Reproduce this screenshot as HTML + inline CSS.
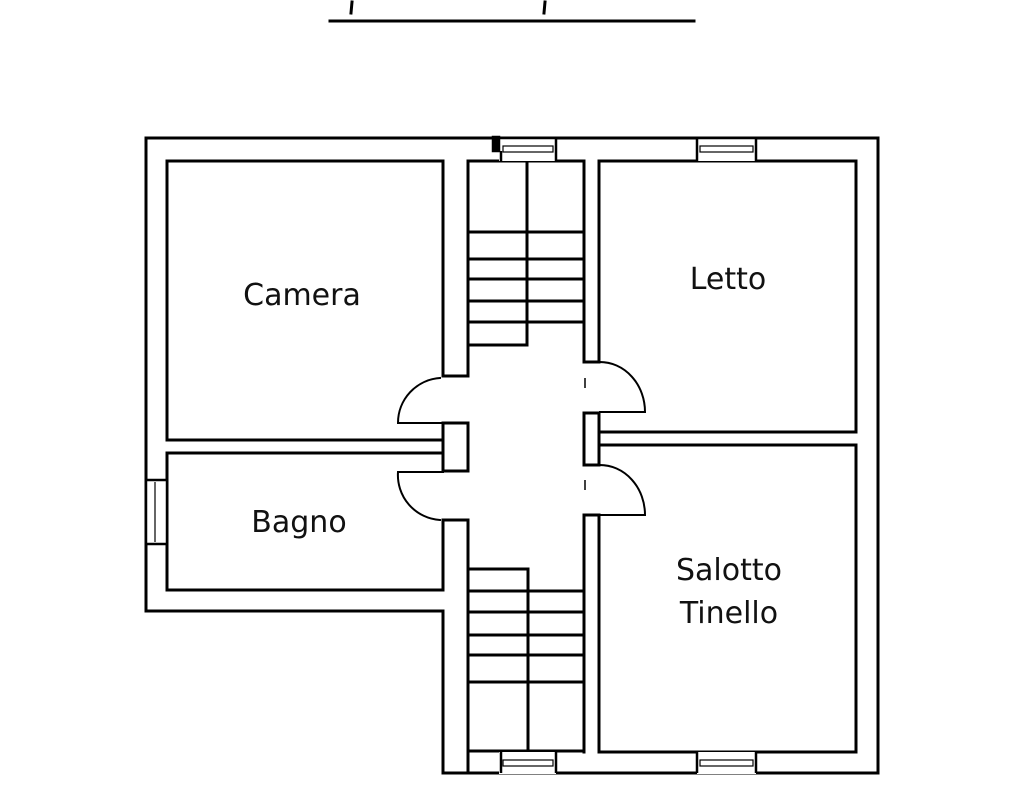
<!DOCTYPE html>
<html><head><meta charset="utf-8"><style>
html,body{margin:0;padding:0;background:#fff;}
svg{display:block;}
text{font-family:"DejaVu Sans","Liberation Sans",sans-serif;font-size:30px;fill:#111;text-anchor:middle;}
</style></head><body>
<svg width="1024" height="785" viewBox="0 0 1024 785" xmlns="http://www.w3.org/2000/svg">
<g fill="none" stroke="#000" stroke-width="3" stroke-linecap="square">
<!-- top line -->
<line x1="330" y1="21" x2="694" y2="21"/>
<line x1="352" y1="2" x2="351" y2="13"/>
<line x1="545" y1="2" x2="544" y2="13"/>
<!-- outer wall -->
<path d="M146,138 H878 V773 H443 V611 H146 Z"/>
<!-- Camera -->
<path d="M443,376 V161 H167 V440 H443"/>
<!-- Bagno -->
<path d="M443,453 H167 V590 H443 V520"/>
<!-- hall left wall pieces -->
<path d="M443,376 H468 V161"/>
<path d="M443,423 H468 V471 H443 Z"/>
<path d="M443,520 H468 V773"/>
<!-- doors left -->
<path d="M440,378 A45,45 0 0 0 398,423 H443" stroke-width="2"/>
<path d="M443,472 H398 A45,45 0 0 0 440,520" stroke-width="2"/>
<!-- right hall wall -->
<path d="M584,161 V362 H599 V161"/>
<path d="M599,161 H856 V432 H599"/>
<path d="M599,445 H856 V752 H599 V515"/>
<path d="M599,413 H584 V465 H599 Z"/>
<path d="M584,515 H599"/>
<path d="M584,515 V752"/>
<!-- right doors -->
<path d="M600,362 A45,50 0 0 1 645,412 H600" stroke-width="2"/>
<path d="M600,465 A45,50 0 0 1 645,515 H600" stroke-width="2"/>
<!-- upper stairs -->
<path d="M469,161 H584"/>
<line x1="527" y1="161" x2="527" y2="345"/>
<line x1="469" y1="232" x2="584" y2="232"/>
<line x1="469" y1="259" x2="584" y2="259"/>
<line x1="469" y1="279" x2="584" y2="279"/>
<line x1="469" y1="301" x2="584" y2="301"/>
<line x1="469" y1="322" x2="584" y2="322"/>
<line x1="469" y1="345" x2="527" y2="345"/>
<!-- lower stairs -->
<line x1="469" y1="569" x2="528" y2="569"/>
<line x1="528" y1="569" x2="528" y2="751"/>
<line x1="469" y1="591" x2="584" y2="591"/>
<line x1="469" y1="612" x2="584" y2="612"/>
<line x1="469" y1="635" x2="584" y2="635"/>
<line x1="469" y1="655" x2="584" y2="655"/>
<line x1="469" y1="682" x2="584" y2="682"/>
<line x1="469" y1="751" x2="584" y2="751"/>
</g>
<g stroke="#000" stroke-width="1.5" fill="#fff">
<!-- windows top -->
<rect x="499" y="137" width="57" height="24" stroke="none"/>
<rect x="697" y="137" width="59" height="24" stroke="none"/>
<rect x="499" y="752" width="57" height="22" stroke="none"/>
<rect x="697" y="752" width="59" height="22" stroke="none"/>
<rect x="145" y="480" width="23" height="64" stroke="none"/>
</g>
<g stroke="#000" stroke-width="2.5" fill="none">
<rect x="493" y="137" width="6" height="14" fill="#000"/>
<line x1="499" y1="138" x2="556" y2="138"/>
<line x1="556" y1="138" x2="556" y2="161"/>
<line x1="501" y1="151" x2="501" y2="161"/>
<line x1="697" y1="138" x2="697" y2="161"/>
<line x1="756" y1="138" x2="756" y2="161"/>
<line x1="697" y1="138" x2="756" y2="138"/>
<line x1="501" y1="751" x2="501" y2="773"/>
<line x1="556" y1="751" x2="556" y2="773"/>
<line x1="697" y1="751" x2="697" y2="773"/>
<line x1="756" y1="751" x2="756" y2="773"/>
<line x1="146" y1="480" x2="167" y2="480"/>
<line x1="146" y1="544" x2="167" y2="544"/>
<line x1="146" y1="480" x2="146" y2="544"/>
<line x1="167" y1="480" x2="167" y2="544"/>
</g>
<g stroke="#000" stroke-width="1.2" fill="none">
<rect x="503" y="146" width="50" height="6"/>
<rect x="700" y="146" width="53" height="6"/>
<rect x="503" y="760" width="50" height="6"/>
<rect x="700" y="760" width="53" height="6"/>
<line x1="155" y1="482" x2="155" y2="542"/>
<line x1="585" y1="378" x2="585" y2="388" stroke-width="1.5"/>
<line x1="585" y1="480" x2="585" y2="490" stroke-width="1.5"/>
</g>
<text x="302" y="305">Camera</text>
<text x="728" y="289">Letto</text>
<text x="299" y="532">Bagno</text>
<text x="729" y="580">Salotto</text>
<text x="729" y="623">Tinello</text>
</svg>
</body></html>
